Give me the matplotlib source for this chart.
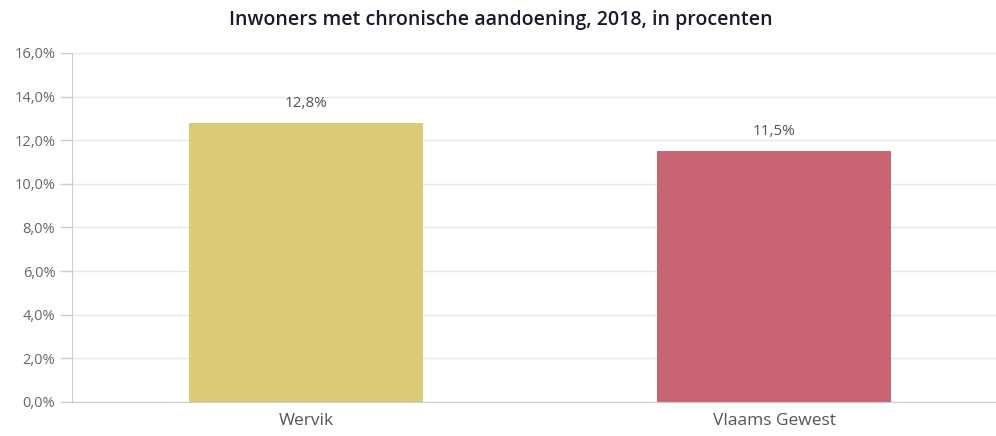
import matplotlib.pyplot as plt
from matplotlib.ticker import FuncFormatter

categories = ["Wervik", "Vlaams Gewest"]
values = [12.8, 11.5]
bar_colors = ["#DBCA77", "#C96473"]
yticks = [0, 2, 4, 6, 8, 10, 12, 14, 16]


def pct(v, pos=None):
    return ("%.1f%%" % v).replace(".", ",")


plt.rcParams['font.family'] = ['Open Sans', 'DejaVu Sans']

fig = plt.figure(figsize=(9.96, 4.36), dpi=100)
ax = fig.add_axes([0.0723, 0.078, 0.9277, 0.8005])

x = range(len(categories))
ax.bar(x, values, width=0.5, color=bar_colors, zorder=2)
for i, v in zip(x, values):
    ax.text(i, v + 0.55, pct(v), ha="center", va="bottom", fontsize=11, color="#555555")

ax.set_xlim(-0.5, 1.474)
ax.set_ylim(0, 16)
ax.set_yticks(yticks)
ax.yaxis.set_major_formatter(FuncFormatter(pct))
ax.set_xticks(list(x))
ax.set_xticklabels(categories)
ax.grid(axis="y", color="#e8e8e8", linewidth=1, zorder=0)

for s in ["top", "right"]:
    ax.spines[s].set_visible(False)
ax.spines["left"].set_color("#cccccc")
ax.spines["bottom"].set_color("#cccccc")
ax.tick_params(axis="y", colors="#cccccc", labelcolor="#666666", labelsize=10.5, length=9, width=1, pad=3)
ax.tick_params(axis="x", length=0, labelcolor="#555555", labelsize=12.5, pad=8)

fig.text(0.503, 0.955, "Inwoners met chronische aandoening, 2018, in procenten",
         ha="center", va="center", fontsize=14, fontweight="semibold", color="#1a1a2e")

fig.savefig("out.png", dpi=100)
